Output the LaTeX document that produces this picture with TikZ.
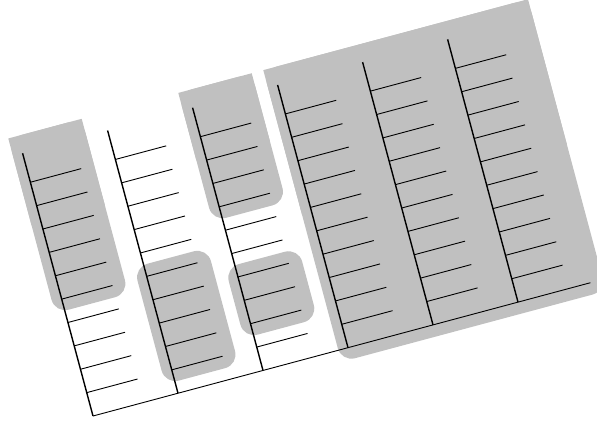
\documentclass[tikz,border=0pt]{standalone}
\definecolor{boxgray}{RGB}{192,192,192}
\tikzset{
  colline/.style={line width=1.4pt},
  tickline/.style={line width=0.9pt},
  axisline/.style={line width=0.9pt},
  graybox/.style={fill=boxgray, draw=none},
  roundbox/.style={graybox, rounded corners=14pt},
}
\begin{document}
\begin{tikzpicture}[x=1pt,y=1pt]
\useasboundingbox (0,0) rectangle (597,424);
\clip (0,0) rectangle (597,424);
\begin{scope}[shift={(93,8)}, rotate=15]
  % gray groups
  % column 1, top part (sharp top corners)
  \fill[roundbox] (-10,109) rectangle (66,290);
  \fill[graybox] (-10,200) rectangle (66,290);
  % column 2, lower part
  \fill[roundbox] (78,12) rectangle (154,133);
  % column 3, top part
  \fill[roundbox] (166,157) rectangle (242,290);
  \fill[graybox] (166,220) rectangle (242,290);
  % column 3, lower part
  \fill[roundbox] (166,36) rectangle (242,109);
  % columns 4-6
  \fill[roundbox] (254,-12) rectangle (528,290);
  \fill[graybox] (254,140) rectangle (528,290);
  % columns with ticks
  \foreach \k in {0,...,5} {
    \coordinate (b\k) at (88*\k,0);
    \coordinate (t\k) at (88*\k,272);
    \draw[colline] (b\k) -- (t\k);
    \foreach \j in {1,...,10} {
      \coordinate (s\k-\j) at (88*\k,24.2*\j);
      \draw[tickline] (s\k-\j) -- ++(52.6,0);
    }
  }
  \coordinate (bend) at (515,0);
  \draw[axisline] (b0) -- (bend);
\end{scope}
\end{tikzpicture}
\end{document}
